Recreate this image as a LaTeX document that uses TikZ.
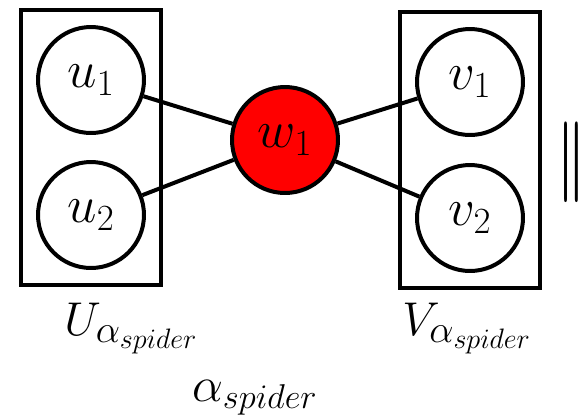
\RequirePackage{fix-cm}
\documentclass[tikz,border=0pt]{standalone}
\usepackage{amsmath,amssymb}
\usepackage{tikz}
\usetikzlibrary{fit}

\DeclareMathSizes{30}{30}{21}{15}
\DeclareMathSizes{27}{27}{22}{16}
\DeclareMathSizes{28}{28}{19.6}{14}
\DeclareMathSizes{46}{46}{32}{23}

\tikzset{
  vertex/.style={draw, circle, line width=0.08cm, minimum size=2.12cm, inner sep=0pt, font=\fontsize{30}{36}\selectfont},
  group/.style={draw, rectangle, line width=0.08cm, inner sep=0.3cm},
  setlabel/.style={font=\fontsize{27}{32}\selectfont, inner sep=0pt},
  edge/.style={line width=0.08cm}
}

\begin{document}
\begin{tikzpicture}[x=0.02cm, y=-0.02cm]
\useasboundingbox (0,0) rectangle (586,417);
% vertices
\node[vertex] (u1) at (91,80) {$u_1$};
\node[vertex] (u2) at (91,215) {$u_2$};
\node[vertex] (v1) at (470,82) {$v_1$};
\node[vertex] (v2) at (470,218) {$v_2$};
\node[vertex, fill=red] (w1) at (285,140) {$w_1$};
% partition boxes
\node[group, fit=(u1)(u2)] (Ubox) {};
\node[group, fit=(v1)(v2)] (Vbox) {};
% edges
\draw[edge] (u1) -- (w1);
\draw[edge] (u2) -- (w1);
\draw[edge] (v1) -- (w1);
\draw[edge] (v2) -- (w1);
% labels
\node[setlabel, anchor=base west] (Ulabel) at (64,335) {$U_{\alpha_{spider}}$};
\node[setlabel, anchor=base west] (Vlabel) at (402,335) {$V_{\alpha_{spider}}$};
\node[setlabel, font=\fontsize{28}{34}\selectfont, anchor=base west] (alabel) at (192,401) {$\alpha_{spider}$};
\node[setlabel, font=\fontsize{46}{50}\selectfont, anchor=east] (sep) at (586,162) {\scalebox{0.6}[1]{\boldmath$\|$}};
\end{tikzpicture}
\end{document}
